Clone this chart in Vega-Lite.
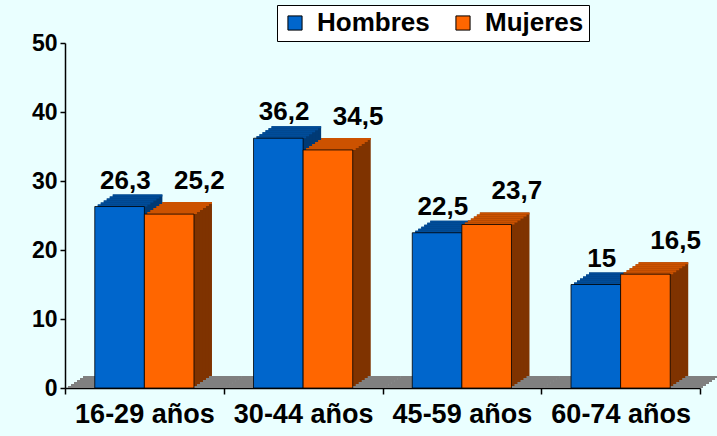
{
  "$schema": "https://vega.github.io/schema/vega-lite/v6.json",
  "width": 635,
  "height": 345,
  "autosize": "none",
  "padding": {"left": 65, "top": 43, "right": 17, "bottom": 48},
  "background": "#EAFFFF",
  "config": {
    "view": {"stroke": null},
    "font": "Liberation Sans",
    "axis": {"grid": false, "domainColor": "#000000", "tickColor": "#000000", "labelColor": "#000000", "labelFontWeight": "bold", "domainWidth": 1.5, "tickWidth": 1.5}
  },
  "data": {
    "values": [
      {"edad": "16-29 años", "sexo": "Hombres", "valor": 26.3, "etiqueta": "26,3"},
      {"edad": "16-29 años", "sexo": "Mujeres", "valor": 25.2, "etiqueta": "25,2"},
      {"edad": "30-44 años", "sexo": "Hombres", "valor": 36.2, "etiqueta": "36,2"},
      {"edad": "30-44 años", "sexo": "Mujeres", "valor": 34.5, "etiqueta": "34,5"},
      {"edad": "45-59 años", "sexo": "Hombres", "valor": 22.5, "etiqueta": "22,5"},
      {"edad": "45-59 años", "sexo": "Mujeres", "valor": 23.7, "etiqueta": "23,7"},
      {"edad": "60-74 años", "sexo": "Hombres", "valor": 15, "etiqueta": "15"},
      {"edad": "60-74 años", "sexo": "Mujeres", "valor": 16.5, "etiqueta": "16,5"}
    ]
  },
  "encoding": {
    "x": {
      "field": "edad", "type": "nominal",
      "sort": ["16-29 años", "30-44 años", "45-59 años", "60-74 años"],
      "scale": {"paddingInner": 0, "paddingOuter": 0},
      "axis": {"title": null, "labelAngle": 0, "labelFontSize": 27, "labelPadding": 7, "tickBand": "extent", "tickSize": 6}
    }
  },
  "layer": [
    {"mark": {"type": "bar", "color": "#808080", "yOffset": -12, "y2Offset": -10, "xOffset": 18}, "encoding": {"y": {"datum": 0, "type": "quantitative"}, "y2": {"datum": 0}}},
    {"mark": {"type": "bar", "color": "#808080", "yOffset": -10, "y2Offset": -8, "xOffset": 15}, "encoding": {"y": {"datum": 0, "type": "quantitative"}, "y2": {"datum": 0}}},
    {"mark": {"type": "bar", "color": "#808080", "yOffset": -8, "y2Offset": -6, "xOffset": 12}, "encoding": {"y": {"datum": 0, "type": "quantitative"}, "y2": {"datum": 0}}},
    {"mark": {"type": "bar", "color": "#808080", "yOffset": -6, "y2Offset": -4, "xOffset": 9}, "encoding": {"y": {"datum": 0, "type": "quantitative"}, "y2": {"datum": 0}}},
    {"mark": {"type": "bar", "color": "#808080", "yOffset": -4, "y2Offset": -2, "xOffset": 6}, "encoding": {"y": {"datum": 0, "type": "quantitative"}, "y2": {"datum": 0}}},
    {"mark": {"type": "bar", "color": "#808080", "yOffset": -2, "y2Offset": 0, "xOffset": 3}, "encoding": {"y": {"datum": 0, "type": "quantitative"}, "y2": {"datum": 0}}},

    {"transform": [{"filter": "datum.sexo === 'Hombres'"}], "mark": {"type": "bar", "color": "#003A75", "width": {"band": 0.3125}, "yOffset": -12, "y2Offset": -12, "xOffset": -6.8}, "encoding": {"y": {"field": "valor", "type": "quantitative"}, "y2": {"datum": 0}}},
    {"transform": [{"filter": "datum.sexo === 'Hombres'"}], "mark": {"type": "bar", "color": "#003A75", "width": {"band": 0.3125}, "yOffset": -10, "y2Offset": -10, "xOffset": -9.8}, "encoding": {"y": {"field": "valor", "type": "quantitative"}, "y2": {"datum": 0}}},
    {"transform": [{"filter": "datum.sexo === 'Hombres'"}], "mark": {"type": "bar", "color": "#003A75", "width": {"band": 0.3125}, "yOffset": -8, "y2Offset": -8, "xOffset": -12.8}, "encoding": {"y": {"field": "valor", "type": "quantitative"}, "y2": {"datum": 0}}},
    {"transform": [{"filter": "datum.sexo === 'Hombres'"}], "mark": {"type": "bar", "color": "#003A75", "width": {"band": 0.3125}, "yOffset": -6, "y2Offset": -6, "xOffset": -15.8}, "encoding": {"y": {"field": "valor", "type": "quantitative"}, "y2": {"datum": 0}}},
    {"transform": [{"filter": "datum.sexo === 'Hombres'"}], "mark": {"type": "bar", "color": "#003A75", "width": {"band": 0.3125}, "yOffset": -4, "y2Offset": -4, "xOffset": -18.8}, "encoding": {"y": {"field": "valor", "type": "quantitative"}, "y2": {"datum": 0}}},
    {"transform": [{"filter": "datum.sexo === 'Hombres'"}], "mark": {"type": "bar", "color": "#003A75", "width": {"band": 0.3125}, "yOffset": -2, "y2Offset": -2, "xOffset": -21.8}, "encoding": {"y": {"field": "valor", "type": "quantitative"}, "y2": {"datum": 0}}},

    {"transform": [{"filter": "datum.sexo === 'Hombres'"}], "mark": {"type": "bar", "color": "#004C99", "width": {"band": 0.3125}, "yOffset": -12, "y2Offset": -10, "xOffset": -6.8}, "encoding": {"y": {"field": "valor", "type": "quantitative"}, "y2": {"field": "valor"}}},
    {"transform": [{"filter": "datum.sexo === 'Hombres'"}], "mark": {"type": "bar", "color": "#004C99", "width": {"band": 0.3125}, "yOffset": -10, "y2Offset": -8, "xOffset": -9.8}, "encoding": {"y": {"field": "valor", "type": "quantitative"}, "y2": {"field": "valor"}}},
    {"transform": [{"filter": "datum.sexo === 'Hombres'"}], "mark": {"type": "bar", "color": "#004C99", "width": {"band": 0.3125}, "yOffset": -8, "y2Offset": -6, "xOffset": -12.8}, "encoding": {"y": {"field": "valor", "type": "quantitative"}, "y2": {"field": "valor"}}},
    {"transform": [{"filter": "datum.sexo === 'Hombres'"}], "mark": {"type": "bar", "color": "#004C99", "width": {"band": 0.3125}, "yOffset": -6, "y2Offset": -4, "xOffset": -15.8}, "encoding": {"y": {"field": "valor", "type": "quantitative"}, "y2": {"field": "valor"}}},
    {"transform": [{"filter": "datum.sexo === 'Hombres'"}], "mark": {"type": "bar", "color": "#004C99", "width": {"band": 0.3125}, "yOffset": -4, "y2Offset": -2, "xOffset": -18.8}, "encoding": {"y": {"field": "valor", "type": "quantitative"}, "y2": {"field": "valor"}}},
    {"transform": [{"filter": "datum.sexo === 'Hombres'"}], "mark": {"type": "bar", "color": "#004C99", "width": {"band": 0.3125}, "yOffset": -2, "y2Offset": 0, "xOffset": -21.8}, "encoding": {"y": {"field": "valor", "type": "quantitative"}, "y2": {"field": "valor"}}},

    {
      "transform": [{"filter": "datum.sexo === 'Hombres'"}],
      "mark": {"type": "bar", "stroke": "#000000", "strokeWidth": 0.8, "width": {"band": 0.3125}, "xOffset": -24.8},
      "encoding": {
        "y": {"field": "valor", "type": "quantitative", "scale": {"domain": [0, 50]}, "axis": {"title": null, "values": [0, 10, 20, 30, 40, 50], "labelFontSize": 23, "labelPadding": 3, "tickSize": 5}},
        "color": {
          "field": "sexo", "type": "nominal",
          "scale": {"domain": ["Hombres", "Mujeres"], "range": ["#0066CC", "#FF6600"]},
          "legend": {
            "title": null, "orient": "none", "direction": "horizontal", "legendX": 212, "legendY": -38,
            "fillColor": "#FFFFFF", "strokeColor": "#000000", "padding": 5,
            "symbolType": "square", "symbolSize": 200, "symbolStrokeColor": "#000000", "symbolStrokeWidth": 1,
            "labelFontSize": 26, "labelFontWeight": "bold", "labelColor": "#000000", "labelOffset": 9, "columnPadding": 20, "labelLimit": 300
          }
        }
      }
    },

    {"transform": [{"filter": "datum.sexo === 'Mujeres'"}], "mark": {"type": "bar", "color": "#7F3300", "width": {"band": 0.3125}, "yOffset": -12, "y2Offset": -12, "xOffset": 42.8}, "encoding": {"y": {"field": "valor", "type": "quantitative"}, "y2": {"datum": 0}}},
    {"transform": [{"filter": "datum.sexo === 'Mujeres'"}], "mark": {"type": "bar", "color": "#7F3300", "width": {"band": 0.3125}, "yOffset": -10, "y2Offset": -10, "xOffset": 39.8}, "encoding": {"y": {"field": "valor", "type": "quantitative"}, "y2": {"datum": 0}}},
    {"transform": [{"filter": "datum.sexo === 'Mujeres'"}], "mark": {"type": "bar", "color": "#7F3300", "width": {"band": 0.3125}, "yOffset": -8, "y2Offset": -8, "xOffset": 36.8}, "encoding": {"y": {"field": "valor", "type": "quantitative"}, "y2": {"datum": 0}}},
    {"transform": [{"filter": "datum.sexo === 'Mujeres'"}], "mark": {"type": "bar", "color": "#7F3300", "width": {"band": 0.3125}, "yOffset": -6, "y2Offset": -6, "xOffset": 33.8}, "encoding": {"y": {"field": "valor", "type": "quantitative"}, "y2": {"datum": 0}}},
    {"transform": [{"filter": "datum.sexo === 'Mujeres'"}], "mark": {"type": "bar", "color": "#7F3300", "width": {"band": 0.3125}, "yOffset": -4, "y2Offset": -4, "xOffset": 30.8}, "encoding": {"y": {"field": "valor", "type": "quantitative"}, "y2": {"datum": 0}}},
    {"transform": [{"filter": "datum.sexo === 'Mujeres'"}], "mark": {"type": "bar", "color": "#7F3300", "width": {"band": 0.3125}, "yOffset": -2, "y2Offset": -2, "xOffset": 27.8}, "encoding": {"y": {"field": "valor", "type": "quantitative"}, "y2": {"datum": 0}}},

    {"transform": [{"filter": "datum.sexo === 'Mujeres'"}], "mark": {"type": "bar", "color": "#CC5200", "width": {"band": 0.3125}, "yOffset": -12, "y2Offset": -10, "xOffset": 42.8}, "encoding": {"y": {"field": "valor", "type": "quantitative"}, "y2": {"field": "valor"}}},
    {"transform": [{"filter": "datum.sexo === 'Mujeres'"}], "mark": {"type": "bar", "color": "#CC5200", "width": {"band": 0.3125}, "yOffset": -10, "y2Offset": -8, "xOffset": 39.8}, "encoding": {"y": {"field": "valor", "type": "quantitative"}, "y2": {"field": "valor"}}},
    {"transform": [{"filter": "datum.sexo === 'Mujeres'"}], "mark": {"type": "bar", "color": "#CC5200", "width": {"band": 0.3125}, "yOffset": -8, "y2Offset": -6, "xOffset": 36.8}, "encoding": {"y": {"field": "valor", "type": "quantitative"}, "y2": {"field": "valor"}}},
    {"transform": [{"filter": "datum.sexo === 'Mujeres'"}], "mark": {"type": "bar", "color": "#CC5200", "width": {"band": 0.3125}, "yOffset": -6, "y2Offset": -4, "xOffset": 33.8}, "encoding": {"y": {"field": "valor", "type": "quantitative"}, "y2": {"field": "valor"}}},
    {"transform": [{"filter": "datum.sexo === 'Mujeres'"}], "mark": {"type": "bar", "color": "#CC5200", "width": {"band": 0.3125}, "yOffset": -4, "y2Offset": -2, "xOffset": 30.8}, "encoding": {"y": {"field": "valor", "type": "quantitative"}, "y2": {"field": "valor"}}},
    {"transform": [{"filter": "datum.sexo === 'Mujeres'"}], "mark": {"type": "bar", "color": "#CC5200", "width": {"band": 0.3125}, "yOffset": -2, "y2Offset": 0, "xOffset": 27.8}, "encoding": {"y": {"field": "valor", "type": "quantitative"}, "y2": {"field": "valor"}}},

    {
      "transform": [{"filter": "datum.sexo === 'Mujeres'"}],
      "mark": {"type": "bar", "stroke": "#000000", "strokeWidth": 0.8, "width": {"band": 0.3125}, "xOffset": 24.8},
      "encoding": {
        "y": {"field": "valor", "type": "quantitative"},
        "color": {"field": "sexo", "type": "nominal"}
      }
    },

    {
      "transform": [{"filter": "datum.sexo === 'Hombres'"}],
      "mark": {"type": "text", "fontSize": 26, "fontWeight": "bold", "color": "#000000", "baseline": "alphabetic", "dx": -19, "dy": -18},
      "encoding": {
        "y": {"field": "valor", "type": "quantitative"},
        "text": {"field": "etiqueta"}
      }
    },
    {
      "transform": [{"filter": "datum.sexo === 'Mujeres'"}],
      "mark": {"type": "text", "fontSize": 26, "fontWeight": "bold", "color": "#000000", "baseline": "alphabetic", "dx": 55, "dy": -25},
      "encoding": {
        "y": {"field": "valor", "type": "quantitative"},
        "text": {"field": "etiqueta"}
      }
    }
  ]
}
